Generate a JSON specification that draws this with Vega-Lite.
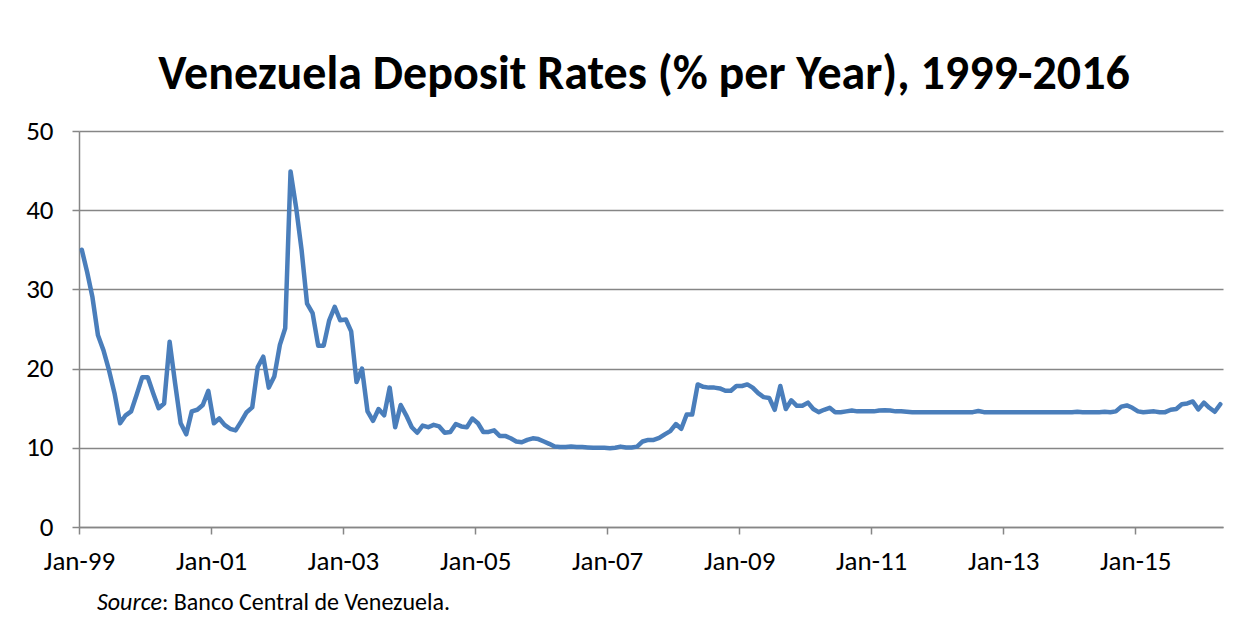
{
  "$schema": "https://vega.github.io/schema/vega-lite/v6.json",
  "autosize": {"type": "none"},
  "padding": {"left": 79, "top": 131, "right": 32, "bottom": 92},
  "width": 1144,
  "height": 396,
  "background": "white",
  "title": {
    "text": "Venezuela Deposit Rates (% per Year), 1999-2016",
    "anchor": "middle",
    "frame": "group",
    "font": "Carlito, Lato, sans-serif",
    "fontSize": 48,
    "fontWeight": "bold",
    "color": "black",
    "baseline": "alphabetic",
    "offset": 30,
    "dx": -7,
    "dy": 50
  },
  "datasets": {
    "rates": [
      {"date": "1999/01/01", "rate": 35.0}, {"date": "1999/02/01", "rate": 32.2}, {"date": "1999/03/01", "rate": 29.0}, {"date": "1999/04/01", "rate": 24.2},
      {"date": "1999/05/01", "rate": 22.3}, {"date": "1999/06/01", "rate": 19.8}, {"date": "1999/07/01", "rate": 16.9}, {"date": "1999/08/01", "rate": 13.1},
      {"date": "1999/09/01", "rate": 14.1}, {"date": "1999/10/01", "rate": 14.6}, {"date": "1999/11/01", "rate": 16.7}, {"date": "1999/12/01", "rate": 18.9},
      {"date": "2000/01/01", "rate": 18.9}, {"date": "2000/02/01", "rate": 16.9}, {"date": "2000/03/01", "rate": 15.0}, {"date": "2000/04/01", "rate": 15.6},
      {"date": "2000/05/01", "rate": 23.4}, {"date": "2000/06/01", "rate": 18.1}, {"date": "2000/07/01", "rate": 13.1}, {"date": "2000/08/01", "rate": 11.7},
      {"date": "2000/09/01", "rate": 14.6}, {"date": "2000/10/01", "rate": 14.8}, {"date": "2000/11/01", "rate": 15.4}, {"date": "2000/12/01", "rate": 17.2},
      {"date": "2001/01/01", "rate": 13.1}, {"date": "2001/02/01", "rate": 13.7}, {"date": "2001/03/01", "rate": 12.9}, {"date": "2001/04/01", "rate": 12.4},
      {"date": "2001/05/01", "rate": 12.2}, {"date": "2001/06/01", "rate": 13.3}, {"date": "2001/07/01", "rate": 14.5}, {"date": "2001/08/01", "rate": 15.1},
      {"date": "2001/09/01", "rate": 20.2}, {"date": "2001/10/01", "rate": 21.5}, {"date": "2001/11/01", "rate": 17.6}, {"date": "2001/12/01", "rate": 19.0},
      {"date": "2002/01/01", "rate": 23.0}, {"date": "2002/02/01", "rate": 25.1}, {"date": "2002/03/01", "rate": 44.9}, {"date": "2002/04/01", "rate": 40.4},
      {"date": "2002/05/01", "rate": 35.0}, {"date": "2002/06/01", "rate": 28.2}, {"date": "2002/07/01", "rate": 27.0}, {"date": "2002/08/01", "rate": 22.9},
      {"date": "2002/09/01", "rate": 22.9}, {"date": "2002/10/01", "rate": 26.1}, {"date": "2002/11/01", "rate": 27.8}, {"date": "2002/12/01", "rate": 26.1},
      {"date": "2003/01/01", "rate": 26.2}, {"date": "2003/02/01", "rate": 24.7}, {"date": "2003/03/01", "rate": 18.3}, {"date": "2003/04/01", "rate": 20.0},
      {"date": "2003/05/01", "rate": 14.6}, {"date": "2003/06/01", "rate": 13.4}, {"date": "2003/07/01", "rate": 14.9}, {"date": "2003/08/01", "rate": 14.1},
      {"date": "2003/09/01", "rate": 17.6}, {"date": "2003/10/01", "rate": 12.6}, {"date": "2003/11/01", "rate": 15.4}, {"date": "2003/12/01", "rate": 14.1},
      {"date": "2004/01/01", "rate": 12.6}, {"date": "2004/02/01", "rate": 11.9}, {"date": "2004/03/01", "rate": 12.8}, {"date": "2004/04/01", "rate": 12.6},
      {"date": "2004/05/01", "rate": 12.9}, {"date": "2004/06/01", "rate": 12.7}, {"date": "2004/07/01", "rate": 11.9}, {"date": "2004/08/01", "rate": 12.0},
      {"date": "2004/09/01", "rate": 13.0}, {"date": "2004/10/01", "rate": 12.7}, {"date": "2004/11/01", "rate": 12.6}, {"date": "2004/12/01", "rate": 13.7},
      {"date": "2005/01/01", "rate": 13.1}, {"date": "2005/02/01", "rate": 12.0}, {"date": "2005/03/01", "rate": 12.0}, {"date": "2005/04/01", "rate": 12.2},
      {"date": "2005/05/01", "rate": 11.5}, {"date": "2005/06/01", "rate": 11.5}, {"date": "2005/07/01", "rate": 11.2}, {"date": "2005/08/01", "rate": 10.8},
      {"date": "2005/09/01", "rate": 10.7}, {"date": "2005/10/01", "rate": 11.0}, {"date": "2005/11/01", "rate": 11.2}, {"date": "2005/12/01", "rate": 11.1},
      {"date": "2006/01/01", "rate": 10.8}, {"date": "2006/02/01", "rate": 10.5}, {"date": "2006/03/01", "rate": 10.15}, {"date": "2006/04/01", "rate": 10.1},
      {"date": "2006/05/01", "rate": 10.1}, {"date": "2006/06/01", "rate": 10.15}, {"date": "2006/07/01", "rate": 10.1}, {"date": "2006/08/01", "rate": 10.1},
      {"date": "2006/09/01", "rate": 10.05}, {"date": "2006/10/01", "rate": 10.0}, {"date": "2006/11/01", "rate": 10.0}, {"date": "2006/12/01", "rate": 10.0},
      {"date": "2007/01/01", "rate": 9.95}, {"date": "2007/02/01", "rate": 10.0}, {"date": "2007/03/01", "rate": 10.15}, {"date": "2007/04/01", "rate": 10.05},
      {"date": "2007/05/01", "rate": 10.05}, {"date": "2007/06/01", "rate": 10.15}, {"date": "2007/07/01", "rate": 10.8}, {"date": "2007/08/01", "rate": 11.0},
      {"date": "2007/09/01", "rate": 11.0}, {"date": "2007/10/01", "rate": 11.25}, {"date": "2007/11/01", "rate": 11.7}, {"date": "2007/12/01", "rate": 12.1},
      {"date": "2008/01/01", "rate": 13.0}, {"date": "2008/02/01", "rate": 12.4}, {"date": "2008/03/01", "rate": 14.2}, {"date": "2008/04/01", "rate": 14.2},
      {"date": "2008/05/01", "rate": 18.0}, {"date": "2008/06/01", "rate": 17.7}, {"date": "2008/07/01", "rate": 17.6}, {"date": "2008/08/01", "rate": 17.6},
      {"date": "2008/09/01", "rate": 17.5}, {"date": "2008/10/01", "rate": 17.2}, {"date": "2008/11/01", "rate": 17.2}, {"date": "2008/12/01", "rate": 17.8},
      {"date": "2009/01/01", "rate": 17.8}, {"date": "2009/02/01", "rate": 18.0}, {"date": "2009/03/01", "rate": 17.6}, {"date": "2009/04/01", "rate": 16.9},
      {"date": "2009/05/01", "rate": 16.4}, {"date": "2009/06/01", "rate": 16.3}, {"date": "2009/07/01", "rate": 14.8}, {"date": "2009/08/01", "rate": 17.8},
      {"date": "2009/09/01", "rate": 14.9}, {"date": "2009/10/01", "rate": 16.0}, {"date": "2009/11/01", "rate": 15.3}, {"date": "2009/12/01", "rate": 15.3},
      {"date": "2010/01/01", "rate": 15.7}, {"date": "2010/02/01", "rate": 14.9}, {"date": "2010/03/01", "rate": 14.5}, {"date": "2010/04/01", "rate": 14.8},
      {"date": "2010/05/01", "rate": 15.05}, {"date": "2010/06/01", "rate": 14.5}, {"date": "2010/07/01", "rate": 14.5}, {"date": "2010/08/01", "rate": 14.6},
      {"date": "2010/09/01", "rate": 14.7}, {"date": "2010/10/01", "rate": 14.6}, {"date": "2010/11/01", "rate": 14.6}, {"date": "2010/12/01", "rate": 14.6},
      {"date": "2011/01/01", "rate": 14.6}, {"date": "2011/02/01", "rate": 14.7}, {"date": "2011/03/01", "rate": 14.75}, {"date": "2011/04/01", "rate": 14.7},
      {"date": "2011/05/01", "rate": 14.6}, {"date": "2011/06/01", "rate": 14.6}, {"date": "2011/07/01", "rate": 14.55}, {"date": "2011/08/01", "rate": 14.5},
      {"date": "2011/09/01", "rate": 14.5}, {"date": "2011/10/01", "rate": 14.5}, {"date": "2011/11/01", "rate": 14.5}, {"date": "2011/12/01", "rate": 14.5},
      {"date": "2012/01/01", "rate": 14.5}, {"date": "2012/02/01", "rate": 14.5}, {"date": "2012/03/01", "rate": 14.5}, {"date": "2012/04/01", "rate": 14.5},
      {"date": "2012/05/01", "rate": 14.5}, {"date": "2012/06/01", "rate": 14.5}, {"date": "2012/07/01", "rate": 14.5}, {"date": "2012/08/01", "rate": 14.65},
      {"date": "2012/09/01", "rate": 14.5}, {"date": "2012/10/01", "rate": 14.5}, {"date": "2012/11/01", "rate": 14.5}, {"date": "2012/12/01", "rate": 14.5},
      {"date": "2013/01/01", "rate": 14.5}, {"date": "2013/02/01", "rate": 14.5}, {"date": "2013/03/01", "rate": 14.5}, {"date": "2013/04/01", "rate": 14.5},
      {"date": "2013/05/01", "rate": 14.5}, {"date": "2013/06/01", "rate": 14.5}, {"date": "2013/07/01", "rate": 14.5}, {"date": "2013/08/01", "rate": 14.5},
      {"date": "2013/09/01", "rate": 14.5}, {"date": "2013/10/01", "rate": 14.5}, {"date": "2013/11/01", "rate": 14.5}, {"date": "2013/12/01", "rate": 14.5},
      {"date": "2014/01/01", "rate": 14.5}, {"date": "2014/02/01", "rate": 14.55}, {"date": "2014/03/01", "rate": 14.5}, {"date": "2014/04/01", "rate": 14.5},
      {"date": "2014/05/01", "rate": 14.5}, {"date": "2014/06/01", "rate": 14.5}, {"date": "2014/07/01", "rate": 14.55}, {"date": "2014/08/01", "rate": 14.5},
      {"date": "2014/09/01", "rate": 14.6}, {"date": "2014/10/01", "rate": 15.2}, {"date": "2014/11/01", "rate": 15.35}, {"date": "2014/12/01", "rate": 15.05},
      {"date": "2015/01/01", "rate": 14.6}, {"date": "2015/02/01", "rate": 14.5}, {"date": "2015/03/01", "rate": 14.55}, {"date": "2015/04/01", "rate": 14.6},
      {"date": "2015/05/01", "rate": 14.5}, {"date": "2015/06/01", "rate": 14.5}, {"date": "2015/07/01", "rate": 14.8}, {"date": "2015/08/01", "rate": 14.9},
      {"date": "2015/09/01", "rate": 15.5}, {"date": "2015/10/01", "rate": 15.6}, {"date": "2015/11/01", "rate": 15.85}, {"date": "2015/12/01", "rate": 14.85},
      {"date": "2016/01/01", "rate": 15.7}, {"date": "2016/02/01", "rate": 15.05}, {"date": "2016/03/01", "rate": 14.55}, {"date": "2016/04/01", "rate": 15.5}
    ],
    "note": [{"label": "source"}]
  },
  "config": {
    "view": {"stroke": null},
    "font": "Carlito, Lato, sans-serif",
    "axis": {
      "labelFont": "Carlito, Lato, sans-serif",
      "labelColor": "black",
      "labelFontSize": 27,
      "domainColor": "#868686",
      "domainWidth": 1.5,
      "tickColor": "#868686",
      "tickWidth": 1.5,
      "gridColor": "#868686",
      "gridWidth": 1.5,
      "gridOpacity": 1
    }
  },
  "layer": [
    {
      "data": {"name": "rates"},
      "mark": {"type": "line", "color": "#4A7EBB", "strokeWidth": 4.5, "strokeJoin": "round", "strokeCap": "round"},
      "encoding": {
        "x": {
          "field": "date",
          "timeUnit": "yearmonth",
          "type": "temporal",
          "bandPosition": 0.5,
          "scale": {"domain": [{"year": 1999, "month": 1, "date": 1}, {"year": 2016, "month": 5, "date": 1}]},
          "axis": {
            "title": null,
            "grid": false,
            "format": "%b-%y",
            "values": [
              {"year": 1999, "month": 1, "date": 1}, {"year": 2001, "month": 1, "date": 1}, {"year": 2003, "month": 1, "date": 1},
              {"year": 2005, "month": 1, "date": 1}, {"year": 2007, "month": 1, "date": 1}, {"year": 2009, "month": 1, "date": 1},
              {"year": 2011, "month": 1, "date": 1}, {"year": 2013, "month": 1, "date": 1}, {"year": 2015, "month": 1, "date": 1}
            ],
            "tickSize": 7,
            "labelPadding": 14,
            "labelFlush": false,
            "labelOverlap": false
          }
        },
        "y": {
          "field": "rate",
          "type": "quantitative",
          "scale": {"domain": [0, 50], "nice": false, "zero": true},
          "axis": {
            "title": null,
            "values": [0, 10, 20, 30, 40, 50],
            "tickSize": 7,
            "labelPadding": 19,
            "grid": true
          }
        }
      }
    },
    {
      "data": {"name": "note"},
      "mark": {"type": "text", "text": "Source", "align": "right", "baseline": "middle", "fontStyle": "italic", "fontSize": 24, "fill": "black"},
      "encoding": {
        "x": {"datum": {"year": 2000, "month": 4, "date": 4}, "type": "temporal"},
        "y": {"datum": -9.6, "type": "quantitative"}
      }
    },
    {
      "data": {"name": "note"},
      "mark": {"type": "text", "text": ": Banco Central de Venezuela.", "align": "left", "baseline": "middle", "fontSize": 24, "fill": "black"},
      "encoding": {
        "x": {"datum": {"year": 2000, "month": 4, "date": 4}, "type": "temporal"},
        "y": {"datum": -9.6, "type": "quantitative"}
      }
    }
  ]
}
